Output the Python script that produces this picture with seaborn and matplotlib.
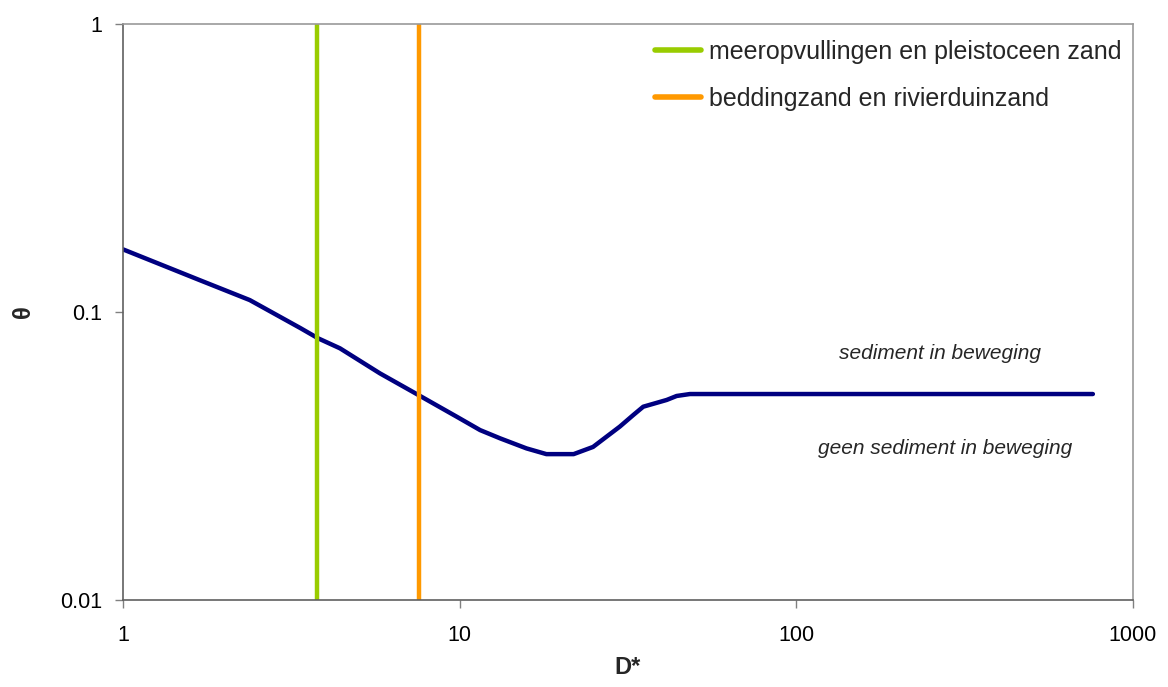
import matplotlib
matplotlib.use("Agg")
import matplotlib.pyplot as plt
import seaborn as sns
import pandas as pd

# Shields curve
d_star = [1.0, 1.69, 2.38, 3.36, 3.80, 4.41, 5.80, 7.54, 9.80, 11.5, 13.2, 15.8, 18.1,
          21.8, 24.9, 27.3, 29.9, 32.8, 35.1, 37.6, 41.2, 44.1, 48.3, 760.0]
theta = [0.165, 0.129, 0.110, 0.088, 0.081, 0.0748, 0.0612, 0.0515, 0.0433, 0.0389, 0.0364,
         0.0336, 0.0321, 0.0321, 0.034, 0.0369, 0.040, 0.0439, 0.0469, 0.048, 0.0495,
         0.0511, 0.0519, 0.0519]

# Vertical reference lines
line_labels = ["meeropvullingen en pleistoceen zand", "beddingzand en rivierduinzand"]
line_positions = [3.77, 7.57]
line_colors = ["#99CC00", "#FF9900"]

x_ticks = [1, 10, 100, 1000]
x_tick_labels = ["1", "10", "100", "1000"]
y_ticks = [0.01, 0.1, 1]
y_tick_labels = ["0.01", "0.1", "1"]

W, H = 1168, 687

sns.set_style("white")
plt.rcParams["font.family"] = ["Liberation Sans", "DejaVu Sans"]

fig = plt.figure(figsize=(W / 100, H / 100), dpi=100)
ax = fig.add_axes([123 / W, 1 - 600 / H, (1133 - 123) / W, (600 - 24) / H])

df = pd.DataFrame({"D": d_star, "theta": theta})
sns.lineplot(data=df, x="D", y="theta", ax=ax, color="#000080", linewidth=3.2,
             legend=False)
ax.lines[0].set_solid_capstyle("round")
ax.lines[0].set_solid_joinstyle("round")

for lab, pos, col in zip(line_labels, line_positions, line_colors):
    ax.axvline(pos, color=col, linewidth=3.2, label=lab)

ax.set_xscale("log")
ax.set_yscale("log")
ax.set_xlim(1, 1000)
ax.set_ylim(0.01, 1)
ax.set_xticks(x_ticks)
ax.set_xticklabels(x_tick_labels)
ax.set_yticks(y_ticks)
ax.set_yticklabels(y_tick_labels)
ax.minorticks_off()

ax.tick_params(axis="both", which="major", direction="out", length=6, width=1,
               color="#808080", labelsize=15.5, labelcolor="black",
               bottom=True, left=True, top=False, right=False)
ax.tick_params(axis="x", pad=12)
ax.tick_params(axis="y", pad=9)

for side in ["left", "bottom"]:
    ax.spines[side].set_color("#606060")
    ax.spines[side].set_linewidth(1.2)
for side in ["top", "right"]:
    ax.spines[side].set_color("#9a9a9a")
    ax.spines[side].set_linewidth(1.2)

ax.set_xlabel("D*", fontsize=17, fontweight="bold", labelpad=7)
ax.set_ylabel("θ", fontsize=17, fontweight="bold", labelpad=18)

fig.text(940 / W, 1 - 353 / H, "sediment in beweging", fontsize=15,
         style="italic", ha="center", va="center")
fig.text(945 / W, 1 - 448 / H, "geen sediment in beweging", fontsize=15,
         style="italic", ha="center", va="center")

leg = ax.legend(loc="upper left", bbox_to_anchor=(655 / W, 1 - 40 / H),
                bbox_transform=fig.transFigure, frameon=False, fontsize=18,
                handlelength=1.85, handletextpad=0.3, labelspacing=0.92,
                borderaxespad=0, borderpad=0)
for h in leg.get_lines():
    h.set_linewidth(4)

fig.savefig("out.png", dpi=100)
